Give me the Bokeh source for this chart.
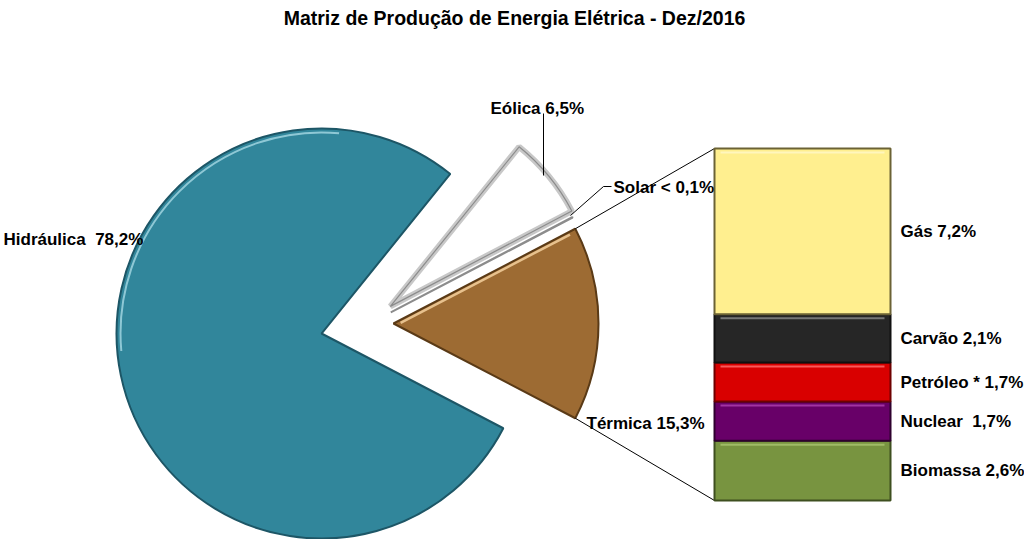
import numpy as np
from bokeh.plotting import figure
from bokeh.models import Range1d
from bokeh.core.properties import value
from bokeh.embed import file_html
from bokeh.resources import INLINE

# ---------------- data ----------------
title_text = "Matriz de Produção de Energia Elétrica - Dez/2016"

# pie slices, drawn anticlockwise starting with Térmica (centred on the horizontal)
pie_names = ["Térmica", "Solar", "Eólica", "Hidráulica"]
pie_values = [15.3, 0.05, 6.5, 78.2]
pie_labels = ["Térmica 15,3%", "Solar < 0,1%", "Eólica 6,5%", "Hidráulica\u00a0 78,2%"]

# breakdown of Térmica (stacked bar, bottom to top)
bar_names = ["Biomassa", "Nuclear", "Petróleo *", "Carvão", "Gás"]
bar_values = [2.6, 1.7, 1.7, 2.1, 7.2]
bar_labels = ["Biomassa 2,6%", "Nuclear\u00a0 1,7%", "Petróleo * 1,7%", "Carvão 2,1%", "Gás 7,2%"]

# ---------------- style / layout ----------------
W, H = 1024, 539
def Y(s):
    return H - s

pie_fill = ["#9D6B33", "#FFFFFF", "#FFFFFF", "#31869B"]
pie_line = ["#5A3A16", "#8C8C8C", "#8C8C8C", "#1D5666"]
explode = [24, 24, 27, 49]
cx, cy = 369, Y(323)
R = 205

bar_fill = ["#789440", "#680068", "#D90000", "#262626", "#FFEF8F"]
bar_line = ["#3E4F1F", "#2E002E", "#6E0000", "#101010", "#6B6235"]
bar_hi = ["#A9C46F", "#B040B0", "#FF7070", "#8C8C8C", "#FFF8C8"]
bar_x0, bar_x1 = 714, 890
bar_top_px, bar_bot_px = 148, 500

FONT = value("Liberation Sans")

p = figure(width=W, height=H, output_backend="svg", toolbar_location=None,
           x_range=Range1d(0, W), y_range=Range1d(0, H),
           x_axis_type=None, y_axis_type=None, min_border=0,
           outline_line_color=None, background_fill_color="white",
           border_fill_color="white")
p.grid.visible = False

# percentage range for the stacked bar
total_bar = sum(bar_values)
scale = (bar_bot_px - bar_top_px) / total_bar
start = -(H - bar_bot_px) / scale
p.extra_y_ranges = {"pct": Range1d(start, start + H / scale)}

# ---------------- pie ----------------
vals = np.array(pie_values)
frac = vals / vals.sum()
a0 = -frac[0] * np.pi
starts = a0 + np.concatenate([[0], np.cumsum(frac)[:-1]]) * 2 * np.pi
ends = a0 + np.cumsum(frac) * 2 * np.pi
mids = (starts + ends) / 2
xs = cx + np.array(explode) * np.cos(mids)
ys = cy + np.array(explode) * np.sin(mids)

# eólica soft grey bevel (drawn under the slice fill edge)
i = 2
p.wedge(x=xs[i], y=ys[i], radius=R, start_angle=starts[i], end_angle=ends[i],
        direction="anticlock", fill_color="#FFFFFF", line_color="#C8C8C8", line_width=6)

for i in range(len(pie_values)):
    lw = 1.2 if i == 2 else 2
    p.wedge(x=xs[i], y=ys[i], radius=R, start_angle=starts[i], end_angle=ends[i],
            direction="anticlock", fill_color=None if i == 2 else pie_fill[i],
            line_color=pie_line[i], line_width=lw)

# bevel highlights
i = 3  # hydro
p.arc(x=xs[i], y=ys[i], radius=R - 4, start_angle=np.radians(85), end_angle=np.radians(185),
      direction="anticlock", line_color="#A6D8E4", line_width=2, line_alpha=0.8)
i = 0  # térmica upper edge
p.segment(x0=xs[i] + 8 * np.cos(ends[i]), y0=ys[i] + 8 * np.sin(ends[i]) - 3,
          x1=xs[i] + (R - 6) * np.cos(ends[i]), y1=ys[i] + (R - 6) * np.sin(ends[i]) - 3,
          line_color="#EFCB98", line_width=2.5, line_alpha=0.9)

# connector lines from Térmica to the bar
t = 0
tx_top = xs[t] + R * np.cos(ends[t]); ty_top = ys[t] + R * np.sin(ends[t])
tx_bot = xs[t] + R * np.cos(starts[t]); ty_bot = ys[t] + R * np.sin(starts[t])
p.segment(x0=[tx_top, tx_bot], y0=[ty_top, ty_bot], x1=[bar_x0, bar_x0],
          y1=[Y(bar_top_px), Y(bar_bot_px)], line_color="black", line_width=1)

# leader lines
p.line(x=[543, 543], y=[Y(113), Y(175)], line_color="black", line_width=1)
p.line(x=[570, 603, 611], y=[Y(215), Y(186), Y(186)], line_color="black", line_width=1)

# ---------------- stacked bar ----------------
bv = np.array(bar_values)
tops = np.cumsum(bv)
bottoms = tops - bv
p.vbar(x=(bar_x0 + bar_x1) / 2, width=bar_x1 - bar_x0, bottom=bottoms, top=tops,
       fill_color=bar_fill, line_color=bar_line, line_width=2, y_range_name="pct")
hi_off = 4 / scale
p.segment(x0=bar_x0 + 6, x1=bar_x1 - 6, y0=tops - hi_off, y1=tops - hi_off,
          line_color=bar_hi, line_width=2, line_alpha=0.8, y_range_name="pct")
p.text(x=900, y=(tops + bottoms) / 2, text=bar_labels, text_font=FONT,
       text_font_style="bold", text_font_size="17px", text_baseline="middle",
       text_align="left", text_color="black", y_range_name="pct")

# ---------------- pie labels ----------------
lab_x = [586, 613, 490, 3]
lab_y = [Y(423), Y(187), Y(108), Y(239)]
p.text(x=lab_x, y=lab_y, text=pie_labels, text_font=FONT, text_font_style="bold",
       text_font_size="17px", text_baseline="alphabetic", text_align="left",
       text_color="black")

# ---------------- title ----------------
p.text(x=[514], y=[Y(17)], text=[title_text], text_font=FONT, text_font_style="bold",
       text_font_size="19.5px", text_baseline="alphabetic", text_align="center",
       text_color="black")

open("out.html", "w").write(file_html(p, INLINE))
